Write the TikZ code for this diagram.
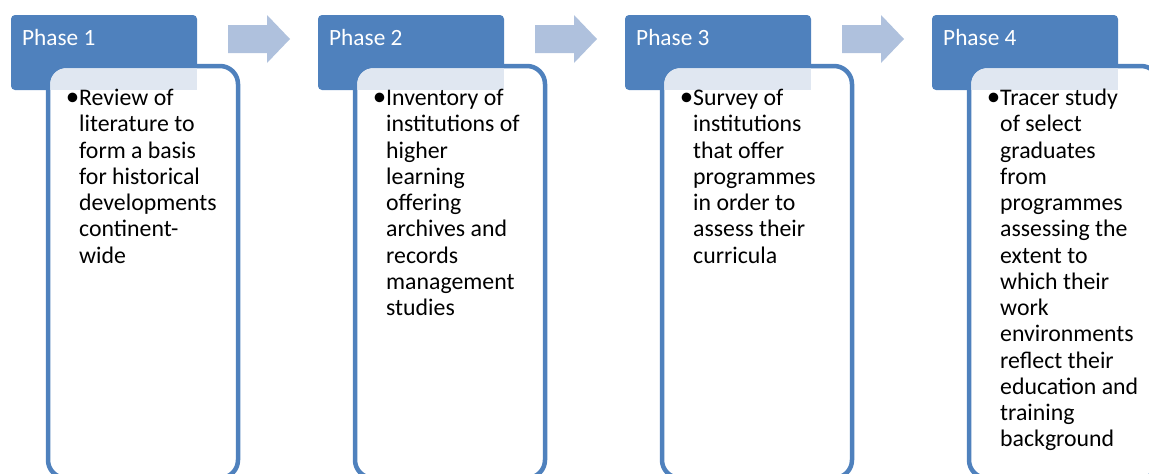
\documentclass[tikz,border=0pt]{standalone}
\usepackage{fontspec}
\setmainfont{Carlito}
\definecolor{hdr}{HTML}{4F81BD}
\definecolor{arr}{HTML}{AFC1DD}
\definecolor{pat}{HTML}{E0E7F1}
\begin{document}
\begin{tikzpicture}[x=1pt,y=-1pt,
  hdrbox/.style={fill=hdr, rounded corners=4pt, minimum width=186pt, minimum height=75pt, anchor=north west, inner sep=0, outer sep=0},
  bodybox/.style={draw=hdr, line width=4.5pt, fill=white, rounded corners=18pt, minimum width=190pt, minimum height=412pt, anchor=north west, inner sep=0, outer sep=0},
  hdrtext/.style={anchor=base west, inner sep=0, text=white, font=\fontsize{23.3}{27}\selectfont},
  bodytext/.style={anchor=north west, inner sep=0, align=left, font=\fontsize{23.8}{26.25}\selectfont},
  blockarrow/.style={fill=arr}]
\useasboundingbox (0,0) rectangle (1149,474);
\clip (0,0) rectangle (1149,474);
\foreach \i in {0,1,2,3}{
  \pgfmathsetmacro{\dx}{307*\i}
  \node[hdrbox] (h\i) at (11+\dx,15) {};
  \node[bodybox] (b\i) at (48+\dx,66) {};
  \begin{scope}
    \clip[rounded corners=15.75pt] (50.25+\dx,68.25) rectangle (235.75+\dx,475.75);
    \fill[pat] (40+\dx,60) rectangle (197+\dx,90);
  \end{scope}
}
\foreach \i in {0,1,2}{
  \pgfmathsetmacro{\dx}{307*\i}
  \fill[blockarrow] (228+\dx,25) -- (267+\dx,25) -- (267+\dx,15) -- (290+\dx,39) -- (267+\dx,63) -- (267+\dx,53) -- (228+\dx,53) -- cycle;
}
\node[hdrtext] (p0) at (22,45) {Phase 1};
\node[hdrtext] (p1) at (329,45) {Phase 2};
\node[hdrtext] (p2) at (636,45) {Phase 3};
\node[hdrtext] (p3) at (943,45) {Phase 4};
\node[bodytext] (t0) at (79,87.1) {\strut\llap{\fontsize{27}{26.25}\selectfont•}Review of\\literature to\\form a basis\\for historical\\developments\\continent-\\wide};
\node[bodytext] (t1) at (386,87.1) {\strut\llap{\fontsize{27}{26.25}\selectfont•}Inventory of\\institutions of\\higher\\learning\\offering\\archives and\\records\\management\\studies};
\node[bodytext] (t2) at (693,87.1) {\strut\llap{\fontsize{27}{26.25}\selectfont•}Survey of\\institutions\\that offer\\programmes\\in order to\\assess their\\curricula};
\node[bodytext] (t3) at (1000,87.1) {\strut\llap{\fontsize{27}{26.25}\selectfont•}Tracer study\\of select\\graduates\\from\\programmes\\assessing the\\extent to\\which their\\work\\environments\\reflect their\\education and\\training\\background};
\end{tikzpicture}
\end{document}
